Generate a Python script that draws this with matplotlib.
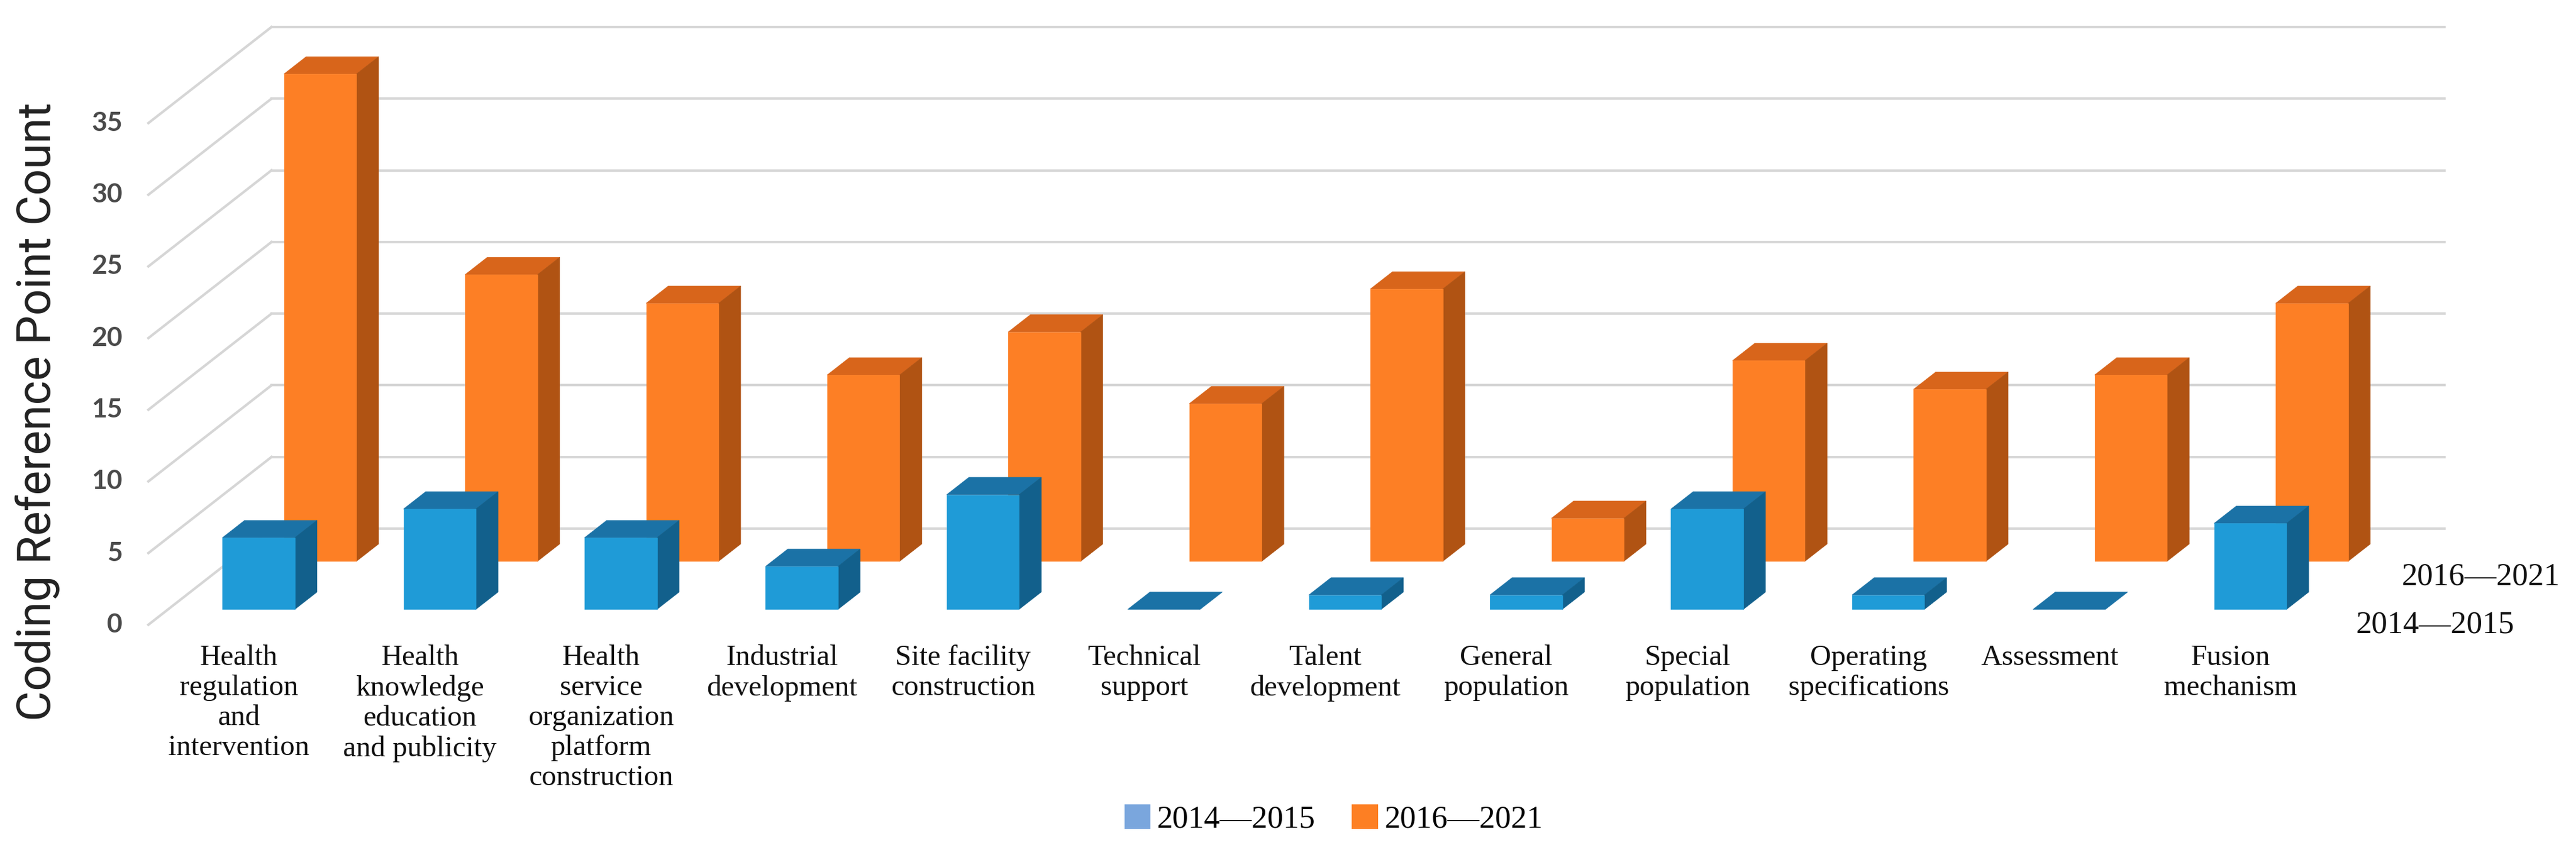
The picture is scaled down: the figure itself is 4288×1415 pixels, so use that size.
import matplotlib
matplotlib.use("Agg")
import matplotlib.pyplot as plt
from matplotlib.patches import Polygon, Patch

# ---- data ----
categories = [
    "Health\nregulation\nand\nintervention",
    "Health\nknowledge\neducation\nand publicity",
    "Health\nservice\norganization\nplatform\nconstruction",
    "Industrial\ndevelopment",
    "Site facility\nconstruction",
    "Technical\nsupport",
    "Talent\ndevelopment",
    "General\npopulation",
    "Special\npopulation",
    "Operating\nspecifications",
    "Assessment",
    "Fusion\nmechanism",
]
series_names = ["2014\u20142015", "2016\u20142021"]
counts_2014_2015 = [5, 7, 5, 3, 8, 0, 1, 1, 7, 1, 0, 6]
counts_2016_2021 = [34, 20, 18, 13, 16, 11, 19, 3, 14, 12, 13, 18]
y_ticks = [0, 5, 10, 15, 20, 25, 30, 35]

# ---- fake 3d (oblique) geometry ----
W_PX, H_PX = 4288, 1415
CAT_PX, UNIT_PX = 301.4, 23.86      # pixels per category / per count
X0_PX, Y0_PX = 247, 1040            # front-left corner of the floor
DEPTH_DX = 205 / CAT_PX             # full depth, in category units
DEPTH_DY = 160 / UNIT_PX            # full depth, in count units
BAR_W, BAR_D = 0.40, 0.18
ROW_DEPTH = [0.16, 0.66]            # front row (blue), back row (orange)

colors = [
    dict(front="#1f9bd7", top="#1b72a6", side="#12608c"),
    dict(front="#fd7f25", top="#d8651b", side="#b05313"),
]
legend_colors = ["#7aa6dd", "#fd7f23"]
grid_color = "#d6d6d6"

fig = plt.figure(figsize=(W_PX / 100, H_PX / 100), dpi=100)
ax = fig.add_axes([0, 0, 1, 1])
ax.set_xlim(-0.5 - X0_PX / CAT_PX, -0.5 + (W_PX - X0_PX) / CAT_PX)
ax.set_ylim(-(H_PX - Y0_PX) / UNIT_PX, Y0_PX / UNIT_PX)
ax.axis("off")


def depth(x, v, d):
    return x + d * DEPTH_DX, v + d * DEPTH_DY


n = len(categories)
left, right = -0.5, n - 0.5

# walls: back wall gridlines and side wall diagonals
for v in y_ticks:
    (bx0, by), (bx1, _) = depth(left, v, 1), depth(right, v, 1)
    ax.plot([bx0, bx1], [by, by], color=grid_color, lw=3, zorder=1)
    fx, fy = depth(left, v, 0)
    ax.plot([fx, bx0], [fy, by], color=grid_color, lw=3, zorder=1)
    ax.text(fx - 43 / CAT_PX, fy, str(v), ha="right", va="center",
            fontsize=32, color="#4a4a4a", family="Lato", fontweight="bold")


def draw_bar(i, v, d0, c, z):
    x0, x1 = i - BAR_W / 2, i + BAR_W / 2
    d1 = d0 + BAR_D
    top = [depth(x0, v, d0), depth(x1, v, d0), depth(x1, v, d1), depth(x0, v, d1)]
    ax.add_patch(Polygon(top, closed=True, fc=c["top"], ec=c["top"], lw=0.5, zorder=z))
    if v > 0:
        front = [depth(x0, 0, d0), depth(x1, 0, d0), depth(x1, v, d0), depth(x0, v, d0)]
        side = [depth(x1, 0, d0), depth(x1, v, d0), depth(x1, v, d1), depth(x1, 0, d1)]
        ax.add_patch(Polygon(side, closed=True, fc=c["side"], ec=c["side"], lw=0.5, zorder=z))
        ax.add_patch(Polygon(front, closed=True, fc=c["front"], ec=c["front"], lw=0.5, zorder=z + 0.1))


# back row first, then front row
for i, v in enumerate(counts_2016_2021):
    draw_bar(i, v, ROW_DEPTH[1], colors[1], 3)
for i, v in enumerate(counts_2014_2015):
    draw_bar(i, v, ROW_DEPTH[0], colors[0], 5)

# category labels
for i, lab in enumerate(categories):
    ax.text(i, -33 / UNIT_PX, lab, ha="center", va="top", fontsize=35,
            family="Liberation Serif", color="#111111", linespacing=1.18)

# series (depth axis) labels on the right
ax.text(right + (3998 - 3864) / CAT_PX, 80 / UNIT_PX, series_names[1],
        ha="left", va="center", fontsize=38, family="Liberation Serif", color="#111111")
ax.text(right + (3922 - 3864) / CAT_PX, 0, series_names[0],
        ha="left", va="center", fontsize=38, family="Liberation Serif", color="#111111")

# y axis title, sized to span the same length as in the original
ylab = ax.text(-0.5 - (X0_PX - 63) / CAT_PX, (Y0_PX - 685) / UNIT_PX,
               "Coding Reference Point Count", rotation=90, ha="center", va="center",
               fontsize=56, family="Roboto", color="#222222")
fig.canvas.draw()
bb = ylab.get_window_extent()
ylab.set_fontsize(56 * 1029 / bb.height)

handles = [Patch(facecolor=legend_colors[0]), Patch(facecolor=legend_colors[1])]
fig.legend(handles, series_names, loc="center", bbox_to_anchor=(2220 / W_PX, 1 - 1364 / H_PX),
           ncol=2, frameon=False, prop=dict(family="Liberation Serif", size=38),
           handlelength=0.82, handleheight=0.82, handletextpad=0.2, columnspacing=1.15)

fig.savefig("out.png", dpi=100)
